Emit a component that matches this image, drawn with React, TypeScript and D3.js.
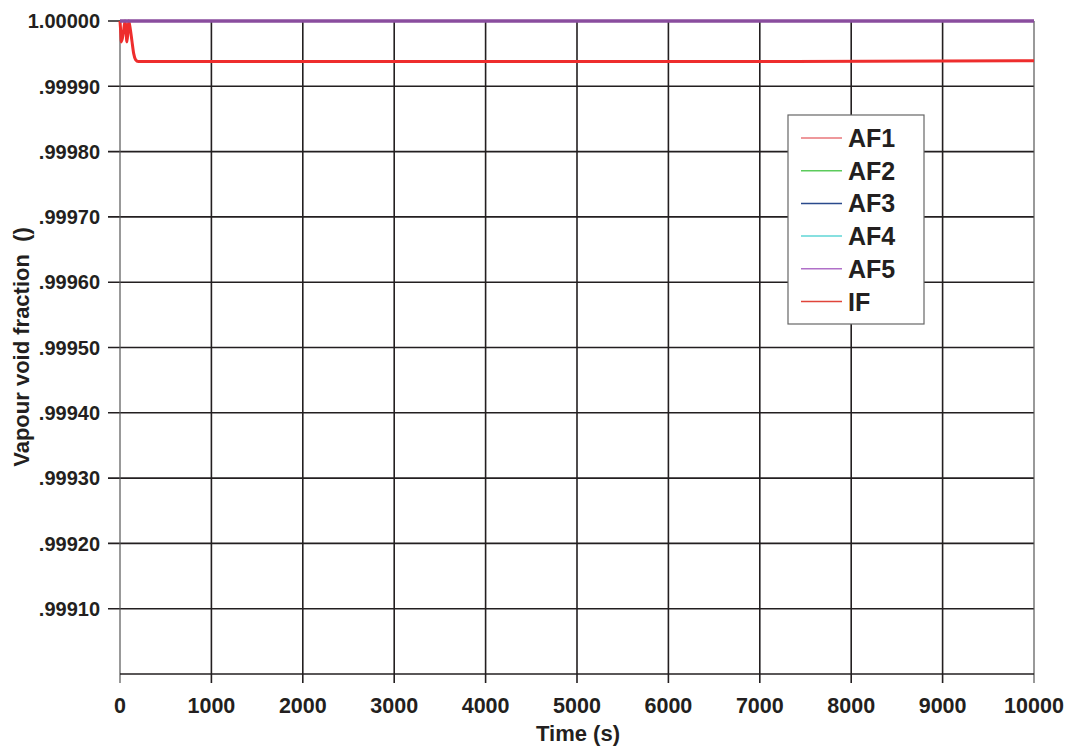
import React from "react";
import * as d3 from "d3";

const W = 1069, H = 747;
const margin = { left: 120, right: 35, top: 21, bottom: 73 };

const xTicks = [0, 1000, 2000, 3000, 4000, 5000, 6000, 7000, 8000, 9000, 10000];
const yTicks = [0.9991, 0.9992, 0.9993, 0.9994, 0.9995, 0.9996, 0.9997, 0.9998, 0.9999, 1.0];
const yTickLabels = [".99910", ".99920", ".99930", ".99940", ".99950", ".99960", ".99970", ".99980", ".99990", "1.00000"];

const seriesNames = ["AF1", "AF2", "AF3", "AF4", "AF5", "IF"];
const seriesColors = ["#e8767a", "#5ccb5c", "#2a4a8c", "#5fd6d6", "#b070c8", "#e0443a"];

// IF (red) series: time, value
const ifTime = [0, 5, 15, 35, 55, 65, 75, 85, 95, 110, 130, 150, 170, 200, 300, 700, 1000, 3000, 6000, 10000];
const ifValue = [1.0, 0.99999, 0.999968, 0.99998, 1.0, 0.99999, 0.999968, 0.99998, 1.0, 0.99999, 0.99997, 0.99995, 0.999941, 0.999938, 0.999938, 0.999938, 0.999938, 0.999938, 0.999938, 0.999939];
// AF5 (purple) series — constant at 1.0
const af5Time = [0, 10000];
const af5Value = [1.0, 1.0];

export default function App() {
  const x = d3.scaleLinear().domain([0, 10000]).range([margin.left, W - margin.right]);
  const y = d3.scaleLinear().domain([0.999, 1.0]).range([H - margin.bottom, margin.top]);
  const line = d3.line<[number, number]>().x(d => x(d[0])).y(d => y(d[1])).curve(d3.curveMonotoneX);
  const ifData: [number, number][] = ifTime.map((t, i) => [t, ifValue[i]]);
  const af5Data: [number, number][] = af5Time.map((t, i) => [t, af5Value[i]]);
  const font = "'Liberation Sans', Arial, sans-serif";
  const x0 = x(0), x1 = x(10000), yb = y(0.999), yt = y(1.0);
  const lx = 788, ly = 115;
  return (
    <svg width={W} height={H} style={{ position: "absolute", left: 0, top: 0, background: "#fff" }} fontFamily={font}>
      <rect x={0} y={0} width={W} height={H} fill="#fff" />
      {/* horizontal grid */}
      {yTicks.map((v, i) => (
        <line key={"hy" + i} x1={x0 - 12} x2={x1} y1={y(v)} y2={y(v)} stroke="#231f20" strokeWidth={1.6} />
      ))}
      {/* vertical grid */}
      {xTicks.map((v, i) => (
        <line key={"vx" + i} x1={x(v)} x2={x(v)} y1={yt} y2={yb + 9} stroke={i === 0 || i === xTicks.length - 1 ? "#555" : "#231f20"} strokeWidth={i === 0 || i === xTicks.length - 1 ? 1.2 : 1.6} />
      ))}
      <line x1={x0} x2={x1} y1={yb} y2={yb} stroke="#231f20" strokeWidth={1.6} />
      {/* y labels */}
      {yTicks.map((v, i) => (
        <text key={"yl" + i} x={x0 - 20} y={y(v)} dy="0.36em" textAnchor="end" fontWeight="bold" fontSize={20} fill="#231f20">{yTickLabels[i]}</text>
      ))}
      {xTicks.map((v, i) => (
        <text key={"xl" + i} x={x(v)} y={713} textAnchor="middle" fontWeight="bold" fontSize={21.5} fill="#231f20">{v}</text>
      ))}
      <text x={578} y={741} textAnchor="middle" fontWeight="bold" fontSize={22} fill="#231f20">Time (s)</text>
      <text transform={`translate(29, ${347}) rotate(-90)`} textAnchor="middle" fontWeight="bold" fontSize={22} fill="#231f20" style={{ whiteSpace: "pre" }}>Vapour void fraction  ()</text>
      {/* data */}
      <path d={line(ifData) || ""} fill="none" stroke="#ee2d2d" strokeWidth={3} strokeLinejoin="round" />
      <path d={line(af5Data) || ""} fill="none" stroke="#8a4d9e" strokeWidth={3.5} />
      {/* legend */}
      <rect x={lx} y={ly} width={136} height={209} fill="#fff" stroke="#666" strokeWidth={1.2} />
      {seriesNames.map((n, i) => {
        const yy = 138 + i * 32.7;
        return (
          <g key={n}>
            <line x1={801} x2={842} y1={yy} y2={yy} stroke={seriesColors[i]} strokeWidth={1.5} />
            <text x={848} y={yy} dy="0.36em" fontWeight="bold" fontSize={25} fill="#231f20">{n}</text>
          </g>
        );
      })}
    </svg>
  );
}
